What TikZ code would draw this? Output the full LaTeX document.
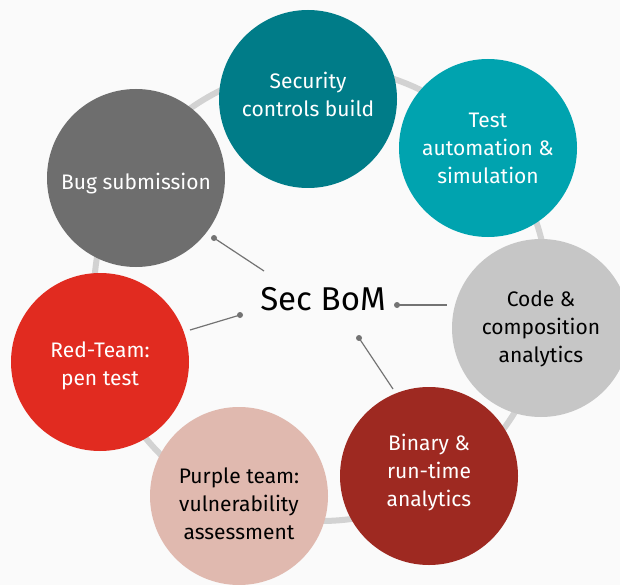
\documentclass[tikz,border=0pt]{standalone}
\usepackage{fontspec}
\setmainfont{Fira Sans}
\begin{document}
\begin{tikzpicture}[x=1pt,y=-1pt,
  bubble/.style={circle,minimum size=178pt,inner sep=0pt},
  lbl/.style={align=center,inner sep=0pt,font=\fontsize{21}{28}\selectfont,text=white},
  conn/.style={draw=black!55,line width=1.2pt},
  dotc/.style={fill=black!55}]
\definecolor{bg}{HTML}{FAFAFA}
\definecolor{ring}{HTML}{D2D2D2}
\definecolor{cSec}{HTML}{007C88}
\definecolor{cTest}{HTML}{00A3AF}
\definecolor{cCode}{HTML}{C6C6C6}
\definecolor{cBin}{HTML}{9E2921}
\definecolor{cPur}{HTML}{E0B9AF}
\definecolor{cRed}{HTML}{E12B20}
\definecolor{cBug}{HTML}{6E6E6E}
\useasboundingbox (0,0) rectangle (620,585);
\fill[bg] (0,0) rectangle (620,585);
\draw[ring,line width=6pt] (321,294) circle (227);
% circles
\node[bubble,fill=cSec] (sec) at (308,99) {};
\node[bubble,fill=cTest] (test) at (488,148) {};
\node[bubble,fill=cCode] (code) at (541,328) {};
\node[bubble,fill=cBin] (bin) at (429,476) {};
\node[bubble,fill=cPur] (pur) at (239,496) {};
\node[bubble,fill=cRed] (red) at (100,362) {};
\node[bubble,fill=cBug] (bug) at (136,178) {};
% labels
\node[lbl] (secT) at (308,94) {Security\\controls build};
\node[lbl] (testT) at (488,148) {Test\\automation \&\\simulation};
\node[lbl,text=black] (codeT) at (541,329) {Code \&\\composition\\analytics};
\node[lbl] (binT) at (429,473) {Binary \&\\run-time\\analytics};
\node[lbl,text=black] (purT) at (239,504) {Purple team:\\vulnerability\\assessment};
\node[lbl] (redT) at (100,365.5) {Red-Team:\\pen test};
\node[lbl] (bugT) at (136,184) {Bug submission};
\node[font=\fontsize{33}{38}\selectfont] (bom) at (323,299) {Sec BoM};
% connectors
\coordinate (d1) at (214,238); \coordinate (e1) at (264,271);
\coordinate (d2) at (240,315); \coordinate (e2) at (190,330);
\coordinate (d3) at (397,305); \coordinate (e3) at (447,305);
\coordinate (d4) at (359,338); \coordinate (e4) at (393,389);
\foreach \i in {1,2,3,4}{
  \draw[conn] (d\i) -- (e\i);
  \fill[dotc] (d\i) circle (3pt);
}
\end{tikzpicture}
\end{document}
